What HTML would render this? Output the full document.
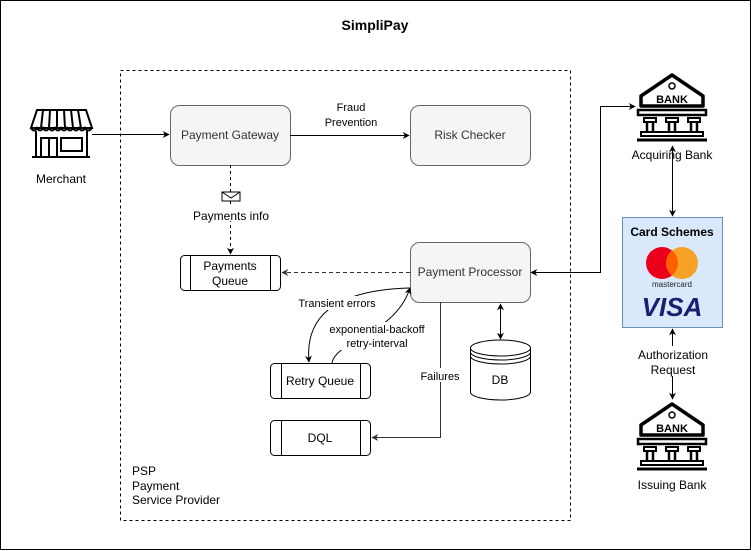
<!DOCTYPE html>
<html><head><meta charset="utf-8"><style>
html,body{margin:0;padding:0;background:#fff}
svg{display:block;font-family:"Liberation Sans",sans-serif}
</style></head><body>
<svg width="751" height="551" viewBox="0 0 751 551" xmlns="http://www.w3.org/2000/svg">
<defs>
<marker id="a" viewBox="0 0 10 10" refX="9" refY="5" markerWidth="7" markerHeight="7" orient="auto-start-reverse"><path d="M0,0 L10,5 L0,10 L3,5 z" fill="#000"/></marker>
<marker id="g" viewBox="0 0 10 10" refX="9" refY="5" markerWidth="7" markerHeight="7" orient="auto-start-reverse"><path d="M0,0 L10,5 L0,10 L3,5 z" fill="#333"/></marker>
<g id="bank">
<path d="M5,34 V24 L36,3 L67,24 V34 Z" fill="none" stroke="#000" stroke-width="3.5" stroke-linejoin="round"/>
<circle cx="36" cy="14" r="3" fill="none" stroke="#000" stroke-width="1.5"/>
<text x="36" y="31" font-size="11" font-weight="bold" text-anchor="middle">BANK</text>
<rect x="2" y="38" width="68" height="5" fill="none" stroke="#000" stroke-width="2.5"/>
<rect x="8" y="46" width="12" height="4" fill="none" stroke="#000" stroke-width="2"/>
<rect x="30" y="46" width="12" height="4" fill="none" stroke="#000" stroke-width="2"/>
<rect x="52" y="46" width="12" height="4" fill="none" stroke="#000" stroke-width="2"/>
<path d="M11,50 V60 M17,50 V60 M33,50 V60 M39,50 V60 M55,50 V60 M61,50 V60" stroke="#000" stroke-width="2.5"/>
<rect x="5" y="60" width="62" height="4" fill="none" stroke="#000" stroke-width="2"/>
<path d="M1,68 H71" stroke="#000" stroke-width="3"/>
</g>
</defs>
<rect x="0.5" y="0.5" width="750" height="549" fill="#fff" stroke="#000"/>
<text x="375" y="30" font-size="14" font-weight="bold" text-anchor="middle">SimpliPay</text>
<rect x="120.5" y="70.5" width="450" height="450" fill="none" stroke="#000" stroke-dasharray="3,3"/>

<g stroke="#000" stroke-width="2" fill="none">
<path d="M37,110 H86 L92,128 H31 Z"/>
<path d="M43,110 L41,128 M50,110 L49,128 M57,110 L57,128 M64,110 L65,128 M71,110 L73,128 M78,110 L81,128"/>
<path d="M31,128 Q34,133 37,128 Q40,133 43,128 Q46,133 49,128 Q52,133 55,128 Q58,133 61,128 Q64,133 67,128 Q70,133 73,128 Q76,133 79,128 Q82,133 85,128 Q88,133 92,128"/>
<path d="M36,131 V157 M87,131 V157 M32,157 H90"/>
<rect x="41" y="138" width="16" height="19"/>
<path d="M49,138 V157"/>
<rect x="61" y="138" width="21" height="13"/>
</g>
<text x="61" y="183" font-size="12" text-anchor="middle">Merchant</text>

<g fill="#f5f5f5" stroke="#666">
<rect x="170.5" y="105.5" width="120" height="60" rx="9"/>
<rect x="410.5" y="105.5" width="120" height="60" rx="9"/>
<rect x="410.5" y="242.5" width="120" height="60" rx="9"/>
</g>
<g font-size="12" fill="#333" text-anchor="middle">
<text x="230" y="139">Payment Gateway</text>
<text x="470" y="139">Risk Checker</text>
<text x="470" y="276">Payment Processor</text>
</g>

<g fill="#fff" stroke="#000">
<rect x="180.5" y="255.5" width="100" height="35" rx="4"/>
<path d="M190.5,255.5 V290.5 M270.5,255.5 V290.5"/>
<rect x="270.5" y="363.5" width="100" height="35" rx="4"/>
<path d="M281.5,363.5 V398.5 M360.5,363.5 V398.5"/>
<rect x="270.5" y="420.5" width="100" height="35" rx="4"/>
<path d="M281.5,420.5 V455.5 M360.5,420.5 V455.5"/>
</g>
<g font-size="12" text-anchor="middle">
<text x="230" y="270">Payments</text><text x="230" y="285">Queue</text>
<text x="320" y="385">Retry Queue</text>
<text x="320" y="442">DQL</text>
</g>

<g fill="#fff" stroke="#000">
<path d="M470.5,348 V392 A30,8 0 0 0 530.5,392 V348"/>
<ellipse cx="500.5" cy="348" rx="30" ry="8"/>
<path d="M470.5,352 A30,8 0 0 0 530.5,352 M470.5,356 A30,8 0 0 0 530.5,356" fill="none"/>
</g>
<text x="500" y="384" font-size="12" text-anchor="middle">DB</text>

<path d="M92,134.5 H169" stroke="#000" marker-end="url(#a)"/>
<path d="M290,135.5 H409" stroke="#000" marker-end="url(#a)"/>
<text x="351" y="111" font-size="11" text-anchor="middle">Fraud</text>
<text x="351" y="126" font-size="11" text-anchor="middle">Prevention</text>
<path d="M230.5,165 V254" stroke="#000" stroke-dasharray="3,3" marker-end="url(#a)"/>
<rect x="222" y="192" width="18" height="9" fill="#fff" stroke="#000"/>
<path d="M222,192 L231,198 L240,192" fill="none" stroke="#000"/>
<rect x="193" y="207" width="76" height="14" fill="#fff"/>
<text x="231" y="220" font-size="12" text-anchor="middle">Payments info</text>
<path d="M410,272.5 H282" stroke="#333" stroke-dasharray="4,3" marker-end="url(#g)"/>
<path d="M531,272.5 H600.5 V106.5 H635" fill="none" stroke="#000" marker-start="url(#a)" marker-end="url(#a)"/>
<path d="M500.5,304 V339" stroke="#000" marker-start="url(#a)" marker-end="url(#a)"/>
<path d="M440.5,302 V437.5 H372" fill="none" stroke="#333" marker-end="url(#g)"/>
<rect x="418" y="368" width="44" height="14" fill="#fff"/>
<text x="440" y="380" font-size="11" text-anchor="middle">Failures</text>
<path d="M410,288 C330,290 305,320 309,362" fill="none" stroke="#000" marker-end="url(#a)"/>
<rect x="298" y="296" width="80" height="14" fill="#fff"/>
<text x="337" y="307" font-size="11" text-anchor="middle">Transient errors</text>
<path d="M332,363 C336,340 395,335 410,288" fill="none" stroke="#000" marker-end="url(#a)"/>
<rect x="328" y="322" width="98" height="28" fill="#fff"/>
<text x="377" y="333" font-size="11" text-anchor="middle">exponential-backoff</text>
<text x="377" y="347" font-size="11" text-anchor="middle">retry-interval</text>

<use href="#bank" x="636" y="72"/>
<text x="672" y="159" font-size="12" text-anchor="middle">Acquiring Bank</text>
<path d="M672.5,146 V216" stroke="#000" marker-start="url(#a)" marker-end="url(#a)"/>
<rect x="622.5" y="217.5" width="100" height="110" fill="#dae8fc" stroke="#6c8ebf"/>
<text x="672" y="236" font-size="12" font-weight="bold" text-anchor="middle">Card Schemes</text>
<circle cx="662" cy="263" r="16" fill="#eb001b"/>
<circle cx="682" cy="263" r="16" fill="#f79e1b" fill-opacity="0.95"/>
<path d="M672,250.5 A16,16 0 0 1 672,275.5 A16,16 0 0 1 672,250.5" fill="#ff5f00"/>
<text x="672" y="287" font-size="8" text-anchor="middle" fill="#222">mastercard</text>
<text x="672" y="316" font-size="26" font-weight="bold" font-style="italic" text-anchor="middle" fill="#1a1f71">VISA</text>
<path d="M672.5,329 V399" stroke="#000" marker-start="url(#a)" marker-end="url(#a)"/>
<rect x="636" y="346" width="74" height="30" fill="#fff"/>
<text x="673" y="359" font-size="12" text-anchor="middle">Authorization</text>
<text x="673" y="374" font-size="12" text-anchor="middle">Request</text>
<use href="#bank" x="636" y="401"/>
<text x="672" y="489" font-size="12" text-anchor="middle">Issuing Bank</text>

<g font-size="12"><text x="132" y="475">PSP</text><text x="132" y="490">Payment</text><text x="132" y="504">Service Provider</text></g>
</svg>
</body></html>
